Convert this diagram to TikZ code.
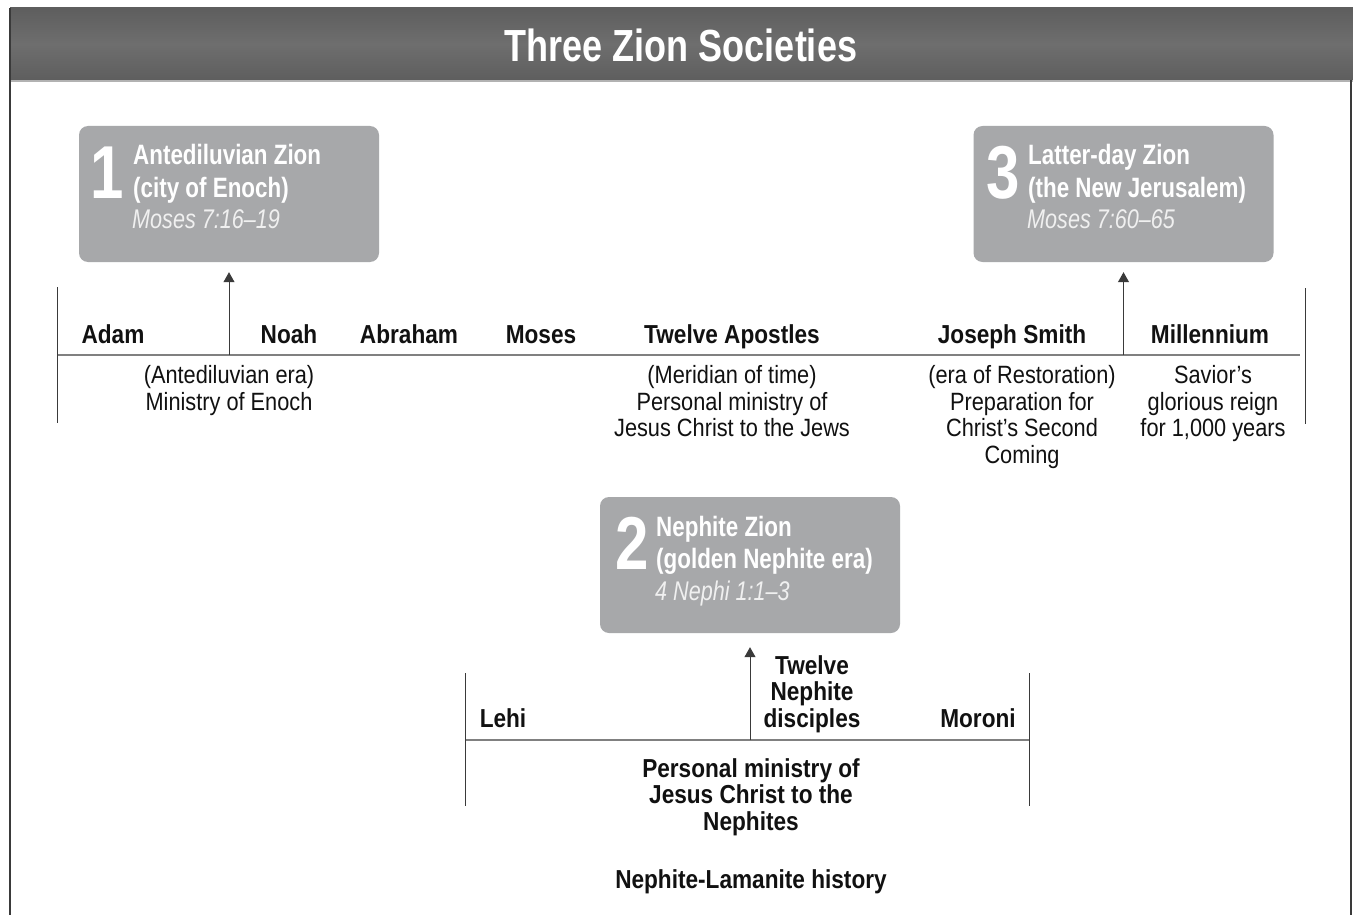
\documentclass[tikz,border=0pt]{standalone}
\usepackage{fontspec}
\setmainfont{Liberation Sans}[FakeStretch=0.8]
\newfontfamily\condwide{Liberation Sans}[FakeStretch=0.87]
\usetikzlibrary{arrows.meta}
\definecolor{boxgray}{HTML}{A7A8AA}
\definecolor{bargray}{HTML}{6E6E6E}
\definecolor{bardark}{HTML}{5E5E5E}
\definecolor{axisgray}{HTML}{808080}
\definecolor{tickgray}{HTML}{3A3A3A}
\definecolor{inkblack}{HTML}{111111}
\begin{document}
\begin{tikzpicture}[x=1pt,y=-1pt,
  zbox/.style={fill=boxgray, rounded corners=9pt, minimum width=300pt, minimum height=136pt, inner sep=0pt},
  znum/.style={font=\fontsize{75}{75}\selectfont\bfseries, text=white, anchor=base east, inner sep=0pt},
  zhead/.style={font=\fontsize{28}{31}\selectfont\bfseries, text=white, anchor=base west, inner sep=0pt},
  zref/.style={font=\fontsize{27}{30}\selectfont\itshape, text=white!94!black, anchor=base west, inner sep=0pt},
  era/.style={font=\condwide\fontsize{26}{28}\selectfont\bfseries, text=inkblack, anchor=base, inner sep=0pt},
  sub/.style={font=\condwide\fontsize{25}{26.7}\selectfont, text=inkblack, align=center, anchor=north, inner sep=0pt},
  subbold/.style={font=\condwide\fontsize{26}{26.7}\selectfont\bfseries, text=inkblack, align=center, anchor=north, inner sep=0pt},
  axisline/.style={draw=axisgray, line width=1.6pt},
  tickline/.style={draw=tickgray, line width=1pt},
  zarrow/.style={draw=tickgray, line width=1pt, -{Triangle[width=11pt,length=10pt]}},
]
\useasboundingbox (0,0) rectangle (1353,915);
% frame and title bar
\fill[white] (0,0) rectangle (1353,915);
\shade[top color=bardark, bottom color=bardark, middle color=bargray] (10,8) rectangle (1353,80);
\draw[gray!60, line width=1.5pt] (10,81) -- (1353,81);
\draw[tickgray, line width=1.2pt] (10,8) -- (10,915);
\draw[tickgray, line width=1.2pt] (1351,80) -- (1351,915);
\node[font=\fontsize{45}{45}\selectfont\bfseries, text=white, anchor=base, inner sep=0pt] (title) at (681,62) {Three Zion Societies};

% boxes
\node[zbox] (box1) at (229,194) {};
\node[zbox] (box3) at (1123.5,194) {};
\node[zbox] (box2) at (750,565) {};

\node[znum] (n1) at (124,198) {1};
\node[zhead] (h1a) at (133,165) {Antediluvian Zion};
\node[zhead] (h1b) at (133,197) {(city of Enoch)};
\node[zref] (r1) at (132,229) {Moses 7:16–19};

\node[znum] (n3) at (1020,198) {3};
\node[zhead] (h3a) at (1028,165) {Latter-day Zion};
\node[zhead] (h3b) at (1028,197) {(the New Jerusalem)};
\node[zref] (r3) at (1027,229) {Moses 7:60–65};

\node[znum] (n2) at (649,569) {2};
\node[zhead] (h2a) at (656,536) {Nephite Zion};
\node[zhead] (h2b) at (656,568) {(golden Nephite era)};
\node[zref] (r2) at (655,600) {4 Nephi 1:1–3};

% upper time line
\coordinate (uL) at (57,355);
\coordinate (uR) at (1300,355);
\coordinate (uLt) at (57,287);
\coordinate (uLb) at (57,423);
\coordinate (uRt) at (1305,288);
\coordinate (uRb) at (1305,424);
\coordinate (a1) at (229,355);
\coordinate (a3) at (1123.5,355);
\draw[axisline] (uL) -- (uR);
\draw[tickline] (uLt) -- (uLb);
\draw[tickline] (uRt) -- (uRb);
\draw[zarrow, shorten >=10pt] (a1) -- (box1.south);
\draw[zarrow, shorten >=10pt] (a3) -- (box3.south);

\node[era] (adam) at (113,343) {Adam};
\node[era] (noah) at (289,343) {Noah};
\node[era] (abraham) at (409,343) {Abraham};
\node[era] (moses) at (541,343) {Moses};
\node[era] (apostles) at (732,343) {Twelve Apostles};
\node[era] (joseph) at (1012,343) {Joseph Smith};
\node[era] (millennium) at (1210,343) {Millennium};

\node[sub] (s1) at (229,365) {(Antediluvian era)\\Ministry of Enoch};
\node[sub] (s2) at (732,365) {(Meridian of time)\\Personal ministry of\\Jesus Christ to the Jews};
\node[sub] (s3) at (1022,365) {(era of Restoration)\\Preparation for\\Christ’s Second\\Coming};
\node[sub] (s4) at (1213,365) {Savior’s\\glorious reign\\for 1,000 years};

% lower time line
\coordinate (lL) at (465,740);
\coordinate (lR) at (1030,740);
\coordinate (lLt) at (465,673);
\coordinate (lLb) at (465,806);
\coordinate (lRt) at (1029,673);
\coordinate (lRb) at (1029,806);
\coordinate (a2) at (750,740);
\draw[axisline] (lL) -- (lR);
\draw[tickline] (lLt) -- (lLb);
\draw[tickline] (lRt) -- (lRb);
\draw[zarrow, shorten >=14pt] (a2) -- (box2.south);

\node[era] (lehi) at (503,727) {Lehi};
\node[era] (moroni) at (978,727) {Moroni};
\node[subbold] (disciples) at (812,655) {Twelve\\Nephite\\disciples};
\node[subbold] (ministry) at (751,758) {Personal ministry of\\Jesus Christ to the\\Nephites};
\node[era] (history) at (751,888) {Nephite-Lamanite history};
\end{tikzpicture}
\end{document}
